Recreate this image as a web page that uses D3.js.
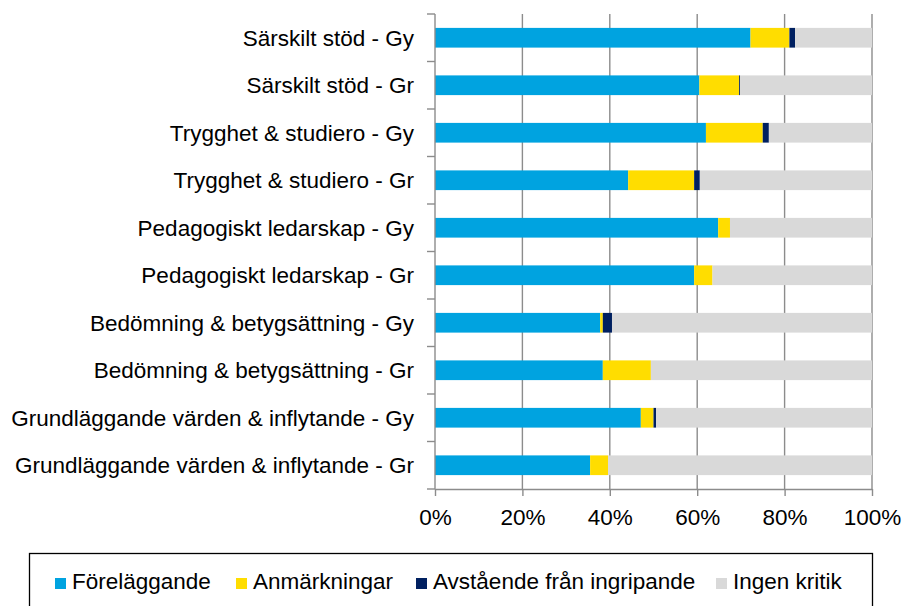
<!DOCTYPE html>
<html>
<head>
<meta charset="utf-8">
<script src="https://cdn.jsdelivr.net/npm/d3@7"></script>
<style>
  body { margin: 0; background: #fff; }
  svg { font-family: "Liberation Sans", Arial, sans-serif; }
  .grid line { stroke: #8c8c8c; stroke-width: 1.4; }
  .axis path, .axis line { stroke: #8c8c8c; stroke-width: 1.4; }
  .axis text { font-size: 22.5px; fill: #000; }
  .cat-label { font-size: 22.5px; fill: #000; }
  .legend-text { font-size: 22.5px; fill: #000; }
</style>
</head>
<body>
<svg id="chart" width="903" height="606"></svg>
<script>
// categories, top to bottom
const categories = [
  'Särskilt stöd - Gy',
  'Särskilt stöd - Gr',
  'Trygghet & studiero - Gy',
  'Trygghet & studiero - Gr',
  'Pedagogiskt ledarskap - Gy',
  'Pedagogiskt ledarskap - Gr',
  'Bedömning & betygsättning - Gy',
  'Bedömning & betygsättning - Gr',
  'Grundläggande värden & inflytande - Gy',
  'Grundläggande värden & inflytande - Gr'
]

const seriesNames = ['Föreläggande', 'Anmärkningar', 'Avstående från ingripande', 'Ingen kritik']

// shares in percent, same order as categories
const forelaggande = [72.2, 60.5, 62.0, 44.2, 64.8, 59.3, 37.8, 38.4, 47.1, 35.5]
const anmarkningar = [8.9, 9.1, 13.0, 15.1, 2.7, 4.2, 0.6, 11.0, 2.9, 4.1]
const avstaende = [1.3, 0.2, 1.4, 1.3, 0, 0, 2.1, 0, 0.6, 0]
const ingenKritik = [17.6, 30.2, 23.6, 39.4, 32.5, 36.5, 59.5, 50.6, 49.4, 60.4]

const xTicks = [0, 20, 40, 60, 80, 100]

const colors = ['#00a3e0', '#ffdd00', '#002060', '#d9d9d9']

const margin = { top: 14, left: 435, right: 31, bottom: 117 }
const width = 903 - margin.left - margin.right
const height = 606 - margin.top - margin.bottom

const svg = d3.select('#chart')
const g = svg.append('g')
  .attr('transform', 'translate(' + margin.left + ',' + margin.top + ')')

const rows = categories.map((c, i) => ({
  category: c,
  'Föreläggande': forelaggande[i],
  'Anmärkningar': anmarkningar[i],
  'Avstående från ingripande': avstaende[i],
  'Ingen kritik': ingenKritik[i]
}))

const stacked = d3.stack().keys(seriesNames)(rows)

const xScale = d3.scaleLinear().domain([0, 100]).range([0, width])
const yScale = d3.scaleBand()
  .domain(categories)
  .range([0, height])
  .paddingInner(0.585)
  .paddingOuter(0.2925)

// vertical gridlines
g.append('g')
  .attr('class', 'grid')
  .selectAll('line')
  .data(xTicks.slice(1))
  .join('line')
  .attr('x1', d => xScale(d))
  .attr('x2', d => xScale(d))
  .attr('y1', 0)
  .attr('y2', height)

// bars
g.append('g')
  .selectAll('g')
  .data(stacked)
  .join('g')
  .attr('fill', (d, i) => colors[i])
  .selectAll('rect')
  .data(d => d)
  .join('rect')
  .attr('x', d => xScale(d[0]))
  .attr('width', d => xScale(d[1]) - xScale(d[0]))
  .attr('y', d => yScale(d.data.category))
  .attr('height', yScale.bandwidth())

// x axis
g.append('g')
  .attr('class', 'axis x-axis')
  .attr('transform', 'translate(0,' + height + ')')
  .call(d3.axisBottom(xScale)
    .tickValues(xTicks)
    .tickSize(7)
    .tickSizeOuter(0)
    .tickPadding(29)
    .tickFormat(d => d + '%'))
  .call(s => s.selectAll('text').attr('dy', '0'))

// y axis: line plus ticks on band boundaries
const step = yScale.step()
const yAxis = g.append('g').attr('class', 'axis y-axis')
yAxis.append('line')
  .attr('x1', 0).attr('x2', 0)
  .attr('y1', 0).attr('y2', height)
yAxis.selectAll('line.tick')
  .data(d3.range(categories.length + 1))
  .join('line')
  .attr('class', 'tick')
  .attr('x1', -8).attr('x2', 0)
  .attr('y1', i => i * step)
  .attr('y2', i => i * step)

g.append('g')
  .selectAll('text')
  .data(categories)
  .join('text')
  .attr('class', 'cat-label')
  .attr('x', -21)
  .attr('y', d => yScale(d) + yScale.bandwidth() / 2)
  .attr('dy', '0.35em')
  .attr('text-anchor', 'end')
  .text(d => d)

// legend
const legend = svg.append('g')
legend.append('rect')
  .attr('x', 29.5)
  .attr('y', 553.5)
  .attr('width', 843)
  .attr('height', 70)
  .attr('fill', 'none')
  .attr('stroke', '#000')
  .attr('stroke-width', 1.3)

const legendX = [55, 236, 416, 716]
const items = legend.selectAll('g')
  .data(seriesNames)
  .join('g')
  .attr('transform', (d, i) => 'translate(' + legendX[i] + ',578)')
items.append('rect')
  .attr('width', 11)
  .attr('height', 11)
  .attr('fill', (d, i) => colors[i])
items.append('text')
  .attr('class', 'legend-text')
  .attr('x', 17)
  .attr('y', 11)
  .text(d => d)
</script>
</body>
</html>
